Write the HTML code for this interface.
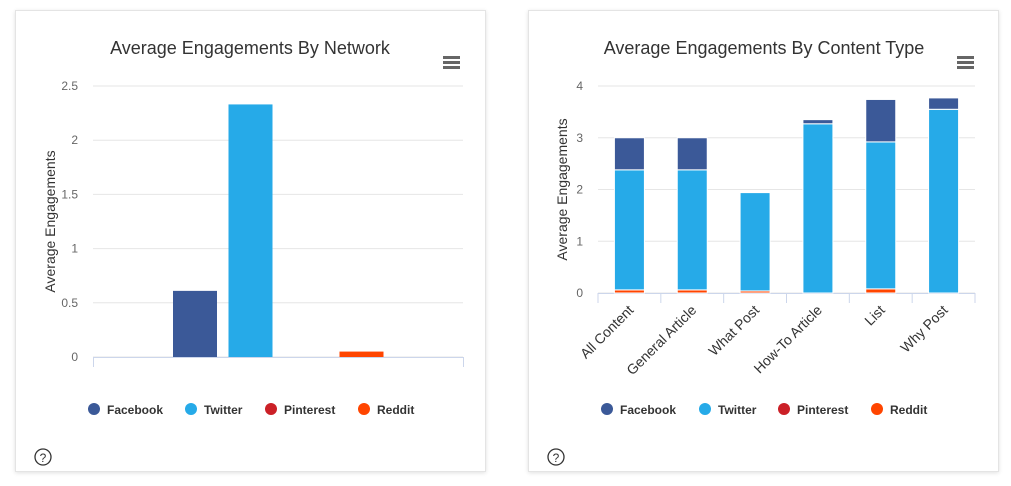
<!DOCTYPE html>
<html><head><meta charset="utf-8"><style>
body{margin:0;background:#fff;width:1011px;height:486px;overflow:hidden;font-family:"Liberation Sans",sans-serif}
.card{position:absolute;top:10px;width:469px;height:460px;border:1px solid #e4e4e4;box-shadow:0 1px 4px rgba(0,0,0,.12);background:#fff}
</style></head><body>
<div class="card" style="left:15px"></div>
<div class="card" style="left:528px"></div>
<svg id="s" width="1011" height="486" style="position:absolute;left:0;top:0" font-family="Liberation Sans, sans-serif"></svg>
<script>
const networks=["Facebook","Twitter","Pinterest","Reddit"];
const networkValues=[0.61,2.33,0,0.05];
const leftTicks=[0,0.5,1,1.5,2,2.5];
const contentTypes=["All Content","General Article","What Post","How-To Article","List","Why Post"];
const redditVals=[0.06,0.06,0.04,0,0.08,0];
const pinterestVals=[0,0,0,0,0,0];
const twitterVals=[2.32,2.32,1.9,3.27,2.84,3.55];
const facebookVals=[0.62,0.62,0,0.08,0.82,0.22];
const rightTicks=[0,1,2,3,4];
const colors={Facebook:"#3b5998",Twitter:"#26aae8",Pinterest:"#cb2027",Reddit:"#ff4500"};
const s=document.getElementById('s');const NS="http://www.w3.org/2000/svg";
function el(t,a,txt){const e=document.createElementNS(NS,t);for(const k in a)e.setAttribute(k,a[k]);if(txt!=null)e.textContent=txt;s.appendChild(e);return e;}
function chrome(cx,title,x0,x1,yT,y0,ticks,max,menuX,cardX,titleX){
 let t=el('text',{x:cx,y:54,'text-anchor':'middle','font-size':18,fill:'#333'},title);
 
 const ys=v=>y0-(v/max)*(y0-yT);
 ticks.forEach(v=>{let g=el('line',{x1:x0,x2:x1,y1:ys(v),y2:ys(v),stroke:'#e6e6e6'});
  
  let l=el('text',{x:x0-15,y:ys(v)+4,'text-anchor':'end','font-size':12,fill:'#666'},v);
  });
 let a=el('text',{transform:`translate(${titleX},${(yT+y0)/2}) rotate(-90)`,'text-anchor':'middle','font-size':14,fill:'#333'},'Average Engagements');
 
 let m=el('g',{});
 [0,5,10].forEach(d=>{const r=document.createElementNS(NS,'rect');r.setAttribute('x',menuX);r.setAttribute('y',56+d);r.setAttribute('width',17);r.setAttribute('height',3);r.setAttribute('fill','#666');m.appendChild(r);});
 s.appendChild(m);
 let h=el('g',{});
 const c=document.createElementNS(NS,'circle');c.setAttribute('cx',cardX+28);c.setAttribute('cy',457);c.setAttribute('r',8);c.setAttribute('fill','none');c.setAttribute('stroke','#333');c.setAttribute('stroke-width',1.3);h.appendChild(c);
 const q=document.createElementNS(NS,'text');q.setAttribute('x',cardX+28);q.setAttribute('y',462);q.setAttribute('text-anchor','middle');q.setAttribute('font-size',12);q.setAttribute('fill','#333');q.textContent='?';h.appendChild(q);s.appendChild(h);
 return ys;
}
function legend(xs){networks.forEach((n,i)=>{let g=el('g',{});
 const c=document.createElementNS(NS,'circle');c.setAttribute('cx',xs[i]);c.setAttribute('cy',409);c.setAttribute('r',6);c.setAttribute('fill',colors[n]);g.appendChild(c);
 const t=document.createElementNS(NS,'text');t.setAttribute('x',xs[i]+13);t.setAttribute('y',414);t.setAttribute('font-size',12);t.setAttribute('font-weight','bold');t.setAttribute('fill','#333');t.textContent=n;g.appendChild(t);s.appendChild(g);});}
// left chart
const ysL=chrome(250,'Average Engagements By Network',93,463,86,357,leftTicks,2.5,443,15,55);
el('line',{x1:93,x2:463,y1:357.5,y2:357.5,stroke:'#ccd6eb'});
el('line',{x1:93.5,x2:93.5,y1:357,y2:367,stroke:'#ccd6eb'});el('line',{x1:463.5,x2:463.5,y1:357,y2:367,stroke:'#ccd6eb'});
networkValues.forEach((v,i)=>{const x=173+i*55.5;let r=el('rect',{x:x,y:ysL(v),width:44,height:357-ysL(v),fill:colors[networks[i]]});
 });
legend([94,191,271,364]);
// right chart
const ysR=chrome(764,'Average Engagements By Content Type',598,975,86,293,rightTicks,4,957,528,567);
const bw=(975-598)/contentTypes.length;
el('line',{x1:598,x2:975,y1:293.5,y2:293.5,stroke:'#ccd6eb'});
for(let i=0;i<=contentTypes.length;i++)el('line',{x1:598+i*bw,x2:598+i*bw,y1:293,y2:303,stroke:'#ccd6eb'});
const series=[["Reddit",redditVals],["Pinterest",pinterestVals],["Twitter",twitterVals],["Facebook",facebookVals]];
contentTypes.forEach((c,i)=>{const cx=598+bw*(i+0.5);let base=0;
 series.forEach(([n,vals])=>{const v=vals[i];if(v>0){const yTop=ysR(base+v),yB=ysR(base);
  let r=el('rect',{x:cx-15,y:yTop,width:30,height:yB-yTop,fill:colors[n],stroke:'#fff','stroke-width':1});
  }base+=v;});
 let t=el('text',{transform:`translate(${cx+5},${311}) rotate(-45)`,'text-anchor':'end','font-size':14,fill:'#333'},c);
 });
legend([607,705,784,877]);
</script>
</body></html>
